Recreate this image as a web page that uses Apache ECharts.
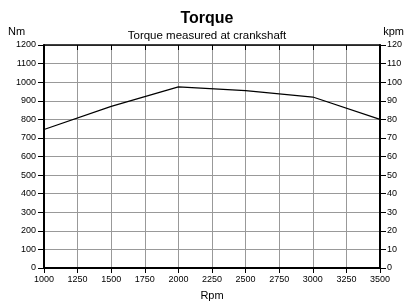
<!DOCTYPE html>
<html lang="en">
<head>
    <meta charset="utf-8">
    <title>Torque</title>
    <script src="https://cdn.jsdelivr.net/npm/echarts@6/dist/echarts.min.js"></script>
    <style>
        html, body { margin: 0; padding: 0; background: #fff; }
        #chart { width: 414px; height: 302px; }
    </style>
</head>
<body>
<div id="chart"></div>
<script>
    // torque curve
    var rpm = [1000, 1500, 2000, 2500, 3000, 3500];
    var torqueNm = [745, 870, 975, 955, 920, 800];

    var font = 'Liberation Sans, Arial, sans-serif';
    var plain = function (v) { return String(v); };
    var chart = echarts.init(document.getElementById('chart'));

    chart.setOption({
        animation: false,
        title: {
            text: 'Torque',
            subtext: 'Torque measured at crankshaft',
            left: 'center',
            top: 6,
            itemGap: 3,
            textStyle: { fontFamily: font, fontSize: 16, fontWeight: 'bold', color: '#000' },
            subtextStyle: { fontFamily: font, fontSize: 11.5, color: '#000' }
        },
        graphic: [
            { type: 'text', left: 8, top: 26, style: { text: 'Nm', font: '11px ' + font, fill: '#000' } },
            { type: 'text', right: 10, top: 26, style: { text: 'kpm', font: '11px ' + font, fill: '#000' } }
        ],
        grid: { left: 44, right: 34, top: 45, bottom: 34, outerBoundsMode: 'none' },
        xAxis: [
            {
                type: 'value', min: 1000, max: 3500, interval: 250,
                name: 'Rpm', nameLocation: 'middle', nameGap: 22,
                nameTextStyle: { fontFamily: font, fontSize: 11, color: '#000' },
                axisLine: { lineStyle: { color: '#000', width: 2 } },
                axisTick: { inside: false, length: 5, lineStyle: { color: '#000' } },
                axisLabel: { fontFamily: font, fontSize: 9, color: '#000', margin: 7, formatter: plain },
                splitLine: { show: true, lineStyle: { color: '#999', width: 1 } }
            },
            {
                type: 'value', min: 1000, max: 3500, interval: 250, position: 'top',
                axisLine: { onZero: false, lineStyle: { color: '#000', width: 1.5 } },
                axisTick: { inside: true, length: 5, lineStyle: { color: '#000' } },
                axisLabel: { show: false },
                splitLine: { show: false }
            }
        ],
        yAxis: [
            {
                type: 'value', min: 0, max: 1200, interval: 100,
                axisLine: { show: true, lineStyle: { color: '#000', width: 2 } },
                axisTick: { show: true, length: 6, lineStyle: { color: '#000' } },
                axisLabel: { fontFamily: font, fontSize: 9, color: '#000', margin: 8, formatter: plain },
                splitLine: { show: true, lineStyle: { color: '#999', width: 1 } }
            },
            {
                type: 'value', min: 0, max: 120, interval: 10, position: 'right',
                axisLine: { show: true, lineStyle: { color: '#000', width: 2 } },
                axisTick: { show: true, length: 6, lineStyle: { color: '#000' } },
                axisLabel: { fontFamily: font, fontSize: 9, color: '#000', margin: 7, formatter: plain },
                splitLine: { show: false }
            }
        ],
        series: [
            {
                type: 'line',
                data: rpm.map(function (r, i) { return [r, torqueNm[i]]; }),
                symbol: 'none',
                lineStyle: { color: '#000', width: 1.2 }
            }
        ]
    });
</script>
</body>
</html>
